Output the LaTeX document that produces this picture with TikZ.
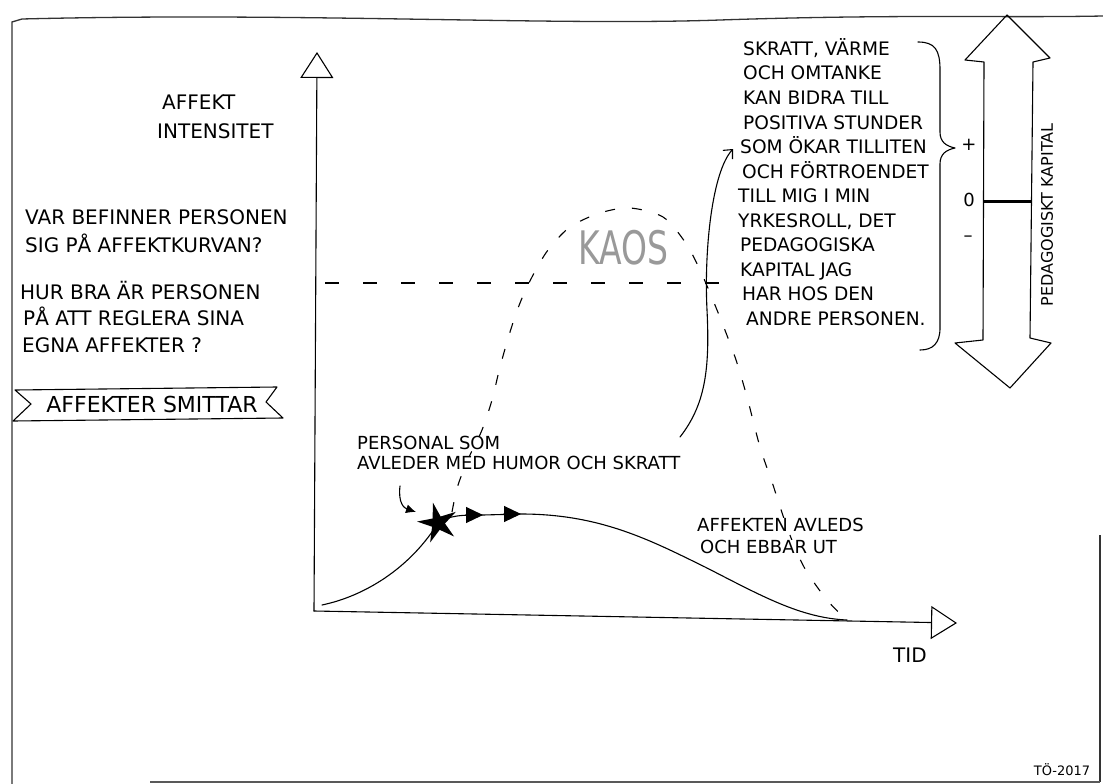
\documentclass[tikz,border=0pt]{standalone}
\usepackage{fontspec}
\setmainfont{DejaVu Sans}
\usetikzlibrary{arrows.meta,shapes.geometric}
\tikzset{
  ink/.style={line width=1.1pt, line cap=round, line join=round},
  frameline/.style={line width=1.3pt, black!80},
  axis/.style={ink, -{Triangle[open,length=26pt,width=33pt,line width=1.1pt]}},
  hand/.style={font=\fontsize{18}{22}\selectfont, inner sep=0pt, anchor=base west},
  handbig/.style={hand, font=\fontsize{20}{22}\selectfont},
  handright/.style={hand, font=\fontsize{18.6}{22}\selectfont},
  handmask/.style={hand, fill=white},
  dashcurve/.style={line width=1.1pt, dash pattern=on 10pt off 17pt},
  dashline/.style={line width=1.1pt, dash pattern=on 14pt off 24pt},
  headtri/.style={ink, -{Triangle[length=17pt,width=16pt]}},
}
\begin{document}
\begin{tikzpicture}[x=1pt,y=-1pt]
\useasboundingbox (0,0) rectangle (1103,784);
% frame
\draw[frameline] (12,784) -- (12,22) -- (22,19) .. controls (300,12) and (550,26) .. (720,20) .. controls (900,14) and (1000,18) .. (1103,16);
\draw[frameline] (1100,535) -- (1100,782);
\draw[line width=1.6pt, black!65] (150,782) -- (1100,782);
% axes
\coordinate (O) at (314,611);
\coordinate (Ytop) at (317,52);
\coordinate (Xend) at (957,623);
\draw[axis] (O) -- (Ytop);
\draw[axis] (O) -- (Xend);
\node[handbig] (ylab1) at (162,110) {AFFEKT};
\node[handbig] (ylab2) at (157,138) {INTENSITET};
\node[handbig] (xlab) at (893,662) {TID};
% left questions
\node[handbig] (q1) at (25,224) {VAR BEFINNER PERSONEN};
\node[handbig] (q2) at (25,252) {SIG PÅ AFFEKTKURVAN?};
\node[handbig] (q3) at (20,299) {HUR BRA ÄR PERSONEN};
\node[handbig] (q4) at (23,325) {PÅ ATT REGLERA SINA};
\node[handbig] (q5) at (22,352) {EGNA AFFEKTER ?};
% banner
\draw[ink] (15,390) -- (277,387) -- (266,402) -- (283,418) -- (13,421) -- (31,404) -- cycle;
\node[inner sep=0pt, font=\fontsize{22}{22}\selectfont] (banner) at (152,404) {AFFEKTER SMITTAR};
% horizontal dashed level
\coordinate (hl1) at (325,283);
\coordinate (hl2) at (730,283);
\draw[dashline] (hl1) -- (hl2);
% KAOS dashed curve
\coordinate (ks) at (452,512);
\coordinate (ke) at (847,620);
\draw[dashcurve] plot[smooth] coordinates {(ks) (458,485) (470,455) (482,430) (492,400) (500,367) (510,332) (520,303) (532,277) (548,250) (570,227) (600,213) (630,208) (663,217) (685,242) (700,270) (717,310) (735,357) (747,397) (760,447) (773,485) (788,530) (804,567) (827,600) (ke)};
\node[inner sep=0pt, text=black!40] (kaos) at (623,248) {\scalebox{1}[1.4]{\fontsize{33}{33}\selectfont KAOS}};
% affect curve
\coordinate (c0) at (322,605);
\coordinate (sc) at (438,523);
\coordinate (a1) at (483,515);
\coordinate (a2) at (521,514);
\draw[ink] (c0) .. controls (365,596) and (410,568) .. (sc);
\draw[ink] (sc) .. controls (450,515) and (462,515) .. (a1) -- (a2)
  .. controls (600,514) and (650,540) .. (705,567) .. controls (760,595) and (800,618) .. (ke);
\node[star, star points=5, star point ratio=3, fill=black, inner sep=0pt, minimum size=42pt, rotate=14] (star) at (sc) {};
\coordinate (a1b) at (466,515);
\coordinate (a2b) at (504,514);
\draw[headtri] (a1b) -- (a1);
\draw[headtri] (a2b) -- (a2);
% pointer to star
\coordinate (ps) at (400,486);
\draw[ink, -{Latex[length=10pt,width=9pt]}] (ps) .. controls (398,503) and (404,508) .. (416,512);
\node[handmask] (pers1) at (357,449) {PERSONAL SOM};
\node[handmask] (pers2) at (357,469) {AVLEDER MED HUMOR OCH SKRATT};
\node[handmask] (ebb1) at (697,531) {AFFEKTEN AVLEDS};
\node[handmask] (ebb2) at (700,553) {OCH EBBAR UT};
% arrow to text
\coordinate (as) at (680,437);
\coordinate (at) at (733,149);
\draw[ink, -{Straight Barb[length=7pt,width=13pt]}] (as) .. controls (705,405) and (710,370) .. (707,310) .. controls (704,250) and (712,172) .. (at);
% right text block
\node[handright] (r1) at (743,55.5) {SKRATT, VÄRME};
\node[handright] (r2) at (743,80) {OCH OMTANKE};
\node[handright] (r3) at (743,104.5) {KAN BIDRA TILL};
\node[handright] (r4) at (743,129) {POSITIVA STUNDER};
\node[handright] (r5) at (740,153.5) {SOM ÖKAR TILLITEN};
\node[handright] (r6) at (742,178) {OCH FÖRTROENDET};
\node[handright] (r7) at (738,202.5) {TILL MIG I MIN};
\node[handright] (r8) at (738,227) {YRKESROLL, DET};
\node[handright] (r9) at (740,251.5) {PEDAGOGISKA};
\node[handright] (r10) at (740,276) {KAPITAL JAG};
\node[handright] (r11) at (742,300.5) {HAR HOS DEN};
\node[handright] (r12) at (746,325) {ANDRE PERSONEN.};
% brace
\draw[ink] (918,42) .. controls (935,42) and (940,50) .. (940,70) -- (940,132) .. controls (940,142) and (946,146) .. (955,148) .. controls (946,150) and (940,154) .. (940,164) -- (940,328) .. controls (940,343) and (933,350) .. (920,350);
% scale
\node[inner sep=0pt, font=\fontsize{18}{18}\selectfont] (plus) at (969,145) {+};
\node[inner sep=0pt, font=\fontsize{18}{18}\selectfont] (zero) at (969,200) {0};
\node[inner sep=0pt, font=\fontsize{18}{18}\selectfont] (minus) at (968,239) {–};
\draw[ink] (1007,15) -- (1050,58) -- (1033,62) -- (1030,338) -- (1051,343) -- (1010,388) -- (955,343) -- (983,340) -- (984,62) -- (965,60) -- cycle;
\draw[line width=3pt] (984,201) -- (1031,201);
\node[inner sep=0pt, rotate=90, font=\fontsize{16}{16}\selectfont] (pk) at (1047,215) {PEDAGOGISKT KAPITAL};
% signature
\node[inner sep=0pt, font=\fontsize{13}{13}\selectfont] (sig) at (1062,770) {TÖ-2017};
\end{tikzpicture}
\end{document}
